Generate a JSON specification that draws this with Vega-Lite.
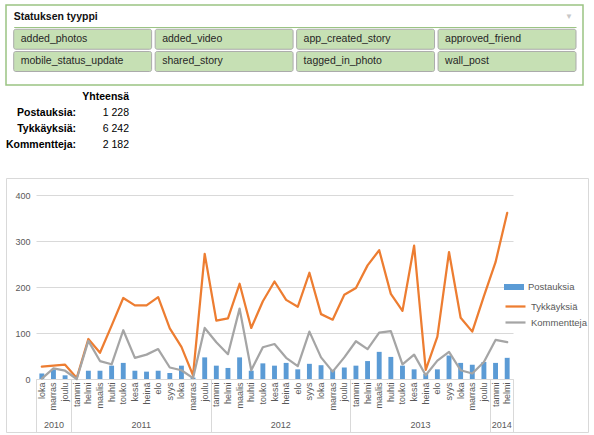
{
  "$schema": "https://vega.github.io/schema/vega-lite/v6.json",
  "background": "white",
  "padding": {"left": 5, "top": 4, "right": 0, "bottom": 0},
  "spacing": 4,
  "bounds": "flush",
  "config": {
    "font": "Liberation Sans",
    "view": {"stroke": null},
    "locale": {"number": {"decimal": ",", "thousands": "\u00a0", "grouping": [3], "currency": ["", "\u00a0€"]}}
  },
  "datasets": {
    "kuukaudet": [
      {"kausi": "2010 loka", "postaukset": 12, "tykkaykset": 27, "kommentit": 1},
      {"kausi": "2010 marras", "postaukset": 21, "tykkaykset": 29, "kommentit": 23},
      {"kausi": "2010 joulu", "postaukset": 8, "tykkaykset": 31, "kommentit": 18},
      {"kausi": "2011 tammi", "postaukset": 0, "tykkaykset": 2, "kommentit": 0},
      {"kausi": "2011 helmi", "postaukset": 18, "tykkaykset": 87, "kommentit": 83},
      {"kausi": "2011 maalis", "postaukset": 18, "tykkaykset": 57, "kommentit": 39},
      {"kausi": "2011 huhti", "postaukset": 29, "tykkaykset": 116, "kommentit": 32},
      {"kausi": "2011 touko", "postaukset": 35, "tykkaykset": 176, "kommentit": 106},
      {"kausi": "2011 kesä", "postaukset": 18, "tykkaykset": 160, "kommentit": 46},
      {"kausi": "2011 heinä", "postaukset": 16, "tykkaykset": 160, "kommentit": 53},
      {"kausi": "2011 elo", "postaukset": 18, "tykkaykset": 178, "kommentit": 65},
      {"kausi": "2011 syys", "postaukset": 13, "tykkaykset": 110, "kommentit": 25},
      {"kausi": "2011 loka", "postaukset": 29, "tykkaykset": 70, "kommentit": 19},
      {"kausi": "2011 marras", "postaukset": 3, "tykkaykset": 8, "kommentit": 2},
      {"kausi": "2011 joulu", "postaukset": 47, "tykkaykset": 272, "kommentit": 111},
      {"kausi": "2012 tammi", "postaukset": 29, "tykkaykset": 127, "kommentit": 80},
      {"kausi": "2012 helmi", "postaukset": 24, "tykkaykset": 132, "kommentit": 54},
      {"kausi": "2012 maalis", "postaukset": 47, "tykkaykset": 207, "kommentit": 153},
      {"kausi": "2012 huhti", "postaukset": 18, "tykkaykset": 111, "kommentit": 19},
      {"kausi": "2012 touko", "postaukset": 34, "tykkaykset": 169, "kommentit": 69},
      {"kausi": "2012 kesä", "postaukset": 29, "tykkaykset": 212, "kommentit": 76},
      {"kausi": "2012 heinä", "postaukset": 35, "tykkaykset": 172, "kommentit": 46},
      {"kausi": "2012 elo", "postaukset": 21, "tykkaykset": 157, "kommentit": 28},
      {"kausi": "2012 syys", "postaukset": 33, "tykkaykset": 231, "kommentit": 103},
      {"kausi": "2012 loka", "postaukset": 30, "tykkaykset": 141, "kommentit": 47},
      {"kausi": "2012 marras", "postaukset": 20, "tykkaykset": 129, "kommentit": 16},
      {"kausi": "2012 joulu", "postaukset": 25, "tykkaykset": 183, "kommentit": 47},
      {"kausi": "2013 tammi", "postaukset": 29, "tykkaykset": 198, "kommentit": 82},
      {"kausi": "2013 helmi", "postaukset": 39, "tykkaykset": 247, "kommentit": 65},
      {"kausi": "2013 maalis", "postaukset": 59, "tykkaykset": 280, "kommentit": 101},
      {"kausi": "2013 huhti", "postaukset": 48, "tykkaykset": 185, "kommentit": 104},
      {"kausi": "2013 touko", "postaukset": 29, "tykkaykset": 148, "kommentit": 32},
      {"kausi": "2013 kesä", "postaukset": 21, "tykkaykset": 290, "kommentit": 53},
      {"kausi": "2013 heinä", "postaukset": 11, "tykkaykset": 20, "kommentit": 8},
      {"kausi": "2013 elo", "postaukset": 21, "tykkaykset": 92, "kommentit": 40},
      {"kausi": "2013 syys", "postaukset": 51, "tykkaykset": 276, "kommentit": 59},
      {"kausi": "2013 loka", "postaukset": 35, "tykkaykset": 133, "kommentit": 19},
      {"kausi": "2013 marras", "postaukset": 31, "tykkaykset": 103, "kommentit": 12},
      {"kausi": "2013 joulu", "postaukset": 37, "tykkaykset": 180, "kommentit": 37},
      {"kausi": "2014 tammi", "postaukset": 35, "tykkaykset": 254, "kommentit": 85},
      {"kausi": "2014 helmi", "postaukset": 46, "tykkaykset": 361, "kommentit": 80}
    ],
    "napit": [
      {"nimi": "added_photos", "sarake": 1, "rivi": "r1"},
      {"nimi": "added_video", "sarake": 2, "rivi": "r1"},
      {"nimi": "app_created_story", "sarake": 3, "rivi": "r1"},
      {"nimi": "approved_friend", "sarake": 4, "rivi": "r1"},
      {"nimi": "mobile_status_update", "sarake": 1, "rivi": "r2"},
      {"nimi": "shared_story", "sarake": 2, "rivi": "r2"},
      {"nimi": "tagged_in_photo", "sarake": 3, "rivi": "r2"},
      {"nimi": "wall_post", "sarake": 4, "rivi": "r2"}
    ],
    "yhteenveto": [
      {"mittari": "Postauksia:", "yhteensa": 1228},
      {"mittari": "Tykkäyksiä:", "yhteensa": 6242},
      {"mittari": "Kommentteja:", "yhteensa": 2182}
    ]
  },
  "vconcat": [
    {
      "width": 577,
      "height": 80,
      "view": {"stroke": "#9BC483", "strokeWidth": 1.5},
      "layer": [
        {
          "data": {"name": "napit"},
          "mark": {"type": "rect", "fill": "#C6E0B4", "stroke": "#ABABAB", "strokeWidth": 1, "cornerRadius": 2},
          "encoding": {
            "x": {"field": "sarake", "type": "ordinal",
                  "scale": {"type": "band", "domain": [1, 2, 3, 4], "range": [7.7, 570], "paddingInner": 0.025, "paddingOuter": 0},
                  "axis": {"orient": "top", "offset": -22, "domain": true, "domainColor": "#9BC483", "domainWidth": 1, "labels": false, "ticks": false, "grid": false, "title": null}},
            "y": {"field": "rivi", "type": "nominal",
                  "scale": {"type": "band", "domain": ["otsikko", "r1", "r2"], "range": [2, 66.5], "paddingInner": 0.1, "paddingOuter": 0},
                  "axis": null}
          }
        },
        {
          "data": {"name": "napit"},
          "mark": {"type": "text", "align": "left", "dx": 7, "fontSize": 10.5, "color": "#262626"},
          "encoding": {
            "x": {"field": "sarake", "type": "ordinal", "bandPosition": 0},
            "y": {"field": "rivi", "type": "nominal", "axis": null},
            "text": {"field": "nimi"}
          }
        },
        {
          "data": {"values": [{"otsikko": "Statuksen tyyppi"}]},
          "mark": {"type": "text", "align": "left", "fontWeight": "bold", "fontSize": 10.5, "color": "#111111"},
          "encoding": {
            "x": {"datum": 1, "type": "ordinal", "bandPosition": 0},
            "y": {"datum": "otsikko", "type": "nominal", "axis": null},
            "text": {"field": "otsikko"}
          }
        },
        {
          "data": {"values": [{"kuvake": "▼"}]},
          "mark": {"type": "text", "align": "right", "dx": -3, "fontSize": 8, "color": "#C8C8C8"},
          "encoding": {
            "x": {"datum": 4, "type": "ordinal", "bandPosition": 1},
            "y": {"datum": "otsikko", "type": "nominal", "axis": null},
            "text": {"field": "kuvake"}
          }
        }
      ]
    },
    {
      "width": 130,
      "height": 85,
      "layer": [
        {
          "data": {"name": "yhteenveto"},
          "mark": {"type": "text", "align": "right", "fontWeight": "bold", "fontSize": 10.5, "color": "#000000"},
          "encoding": {
            "x": {"datum": "nimi", "type": "nominal", "bandPosition": 1,
                  "scale": {"type": "band", "domain": ["nimi", "arvo"], "range": [17, 123], "paddingInner": 0, "paddingOuter": 0},
                  "axis": null},
            "y": {"field": "mittari", "type": "nominal",
                  "scale": {"type": "band", "domain": ["Yhteensä", "Postauksia:", "Tykkäyksiä:", "Kommentteja:"], "range": [0, 64], "paddingInner": 0, "paddingOuter": 0},
                  "axis": null},
            "text": {"field": "mittari"}
          }
        },
        {
          "data": {"name": "yhteenveto"},
          "mark": {"type": "text", "align": "right", "fontSize": 10.5, "color": "#000000"},
          "encoding": {
            "x": {"datum": "arvo", "type": "nominal", "bandPosition": 1, "axis": null},
            "y": {"field": "mittari", "type": "nominal", "axis": null},
            "text": {"field": "yhteensa", "type": "quantitative", "format": ",d"}
          }
        },
        {
          "data": {"values": [{"otsikko": "Yhteensä"}]},
          "mark": {"type": "text", "align": "right", "fontWeight": "bold", "fontSize": 10.5, "color": "#000000"},
          "encoding": {
            "x": {"datum": "arvo", "type": "nominal", "bandPosition": 1, "axis": null},
            "y": {"field": "otsikko", "type": "nominal", "axis": null},
            "text": {"field": "otsikko"}
          }
        }
      ]
    },
    {
      "width": 582,
      "height": 254,
      "view": {"stroke": "#D9D9D9", "strokeWidth": 1},
      "data": {"name": "kuukaudet"},
      "resolve": {"axis": {"x": "independent"}},
      "layer": [
        {
          "mark": {"type": "bar", "width": {"band": 0.42}},
          "encoding": {
            "x": {"field": "kausi", "type": "nominal", "sort": null,
                  "scale": {"type": "band", "range": [30, 507], "paddingInner": 0, "paddingOuter": 0},
                  "axis": {"orient": "bottom", "offset": -53, "title": null, "labelAngle": -90, "labelPadding": 3,
                           "labelFontSize": 9, "labelColor": "#595959", "ticks": false, "grid": false,
                           "domain": true, "domainColor": "#D9D9D9", "labelOverlap": false,
                           "labelExpr": "split(datum.value, ' ')[1]"}},
            "y": {"field": "postaukset", "type": "quantitative", "title": null,
                  "scale": {"domain": [0, 400], "range": [201, 17], "nice": false},
                  "axis": {"orient": "left", "offset": -29, "labelPadding": 5, "domain": false, "ticks": false,
                           "grid": true, "gridColor": "#D9D9D9", "gridWidth": 1, "labelFontSize": 9, "labelColor": "#595959",
                           "values": [0, 50, 100, 150, 200, 250, 300, 350, 400], "title": null}},
            "fill": {"datum": "Postauksia", "type": "nominal",
                     "scale": {"domain": ["Postauksia"], "range": ["#5B9BD5"]},
                     "legend": {"orient": "none", "legendX": 498, "legendY": 272, "title": null,
                                "symbolType": "M-1,-0.3H1V0.3H-1Z", "symbolSize": 400, "symbolStrokeWidth": 0,
                                "labelFontSize": 9.5, "labelColor": "#595959", "labelOffset": 4,
                                "fillColor": "white", "padding": 0}}
          }
        },
        {
          "mark": {"type": "line", "strokeWidth": 2.25, "strokeJoin": "round", "strokeCap": "round"},
          "encoding": {
            "x": {"field": "kausi", "type": "nominal", "sort": null,
                  "axis": {"orient": "bottom", "offset": -53, "title": null, "labelAngle": 0, "domain": false, "grid": false,
                           "tickBand": "extent", "tickExtra": true, "tickSize": 53, "tickColor": "#D9D9D9", "tickWidth": 1,
                           "tickOpacity": {"condition": {"test": "datum.extra || indexof(['2010 joulu','2011 joulu','2012 joulu','2013 joulu','2014 helmi'], datum.value) >= 0", "value": 1}, "value": 0},
                           "labelPadding": -12, "labelFontSize": 9, "labelColor": "#595959", "labelOverlap": false,
                           "labelOffset": {"condition": {"test": "datum.value == '2010 marras'", "value": 0}, "value": 5.82},
                           "labelExpr": "indexof(['2010 marras','2011 kesä','2012 kesä','2013 kesä','2014 tammi'], datum.value) >= 0 ? split(datum.value, ' ')[0] : ''"}},
            "y": {"field": "tykkaykset", "type": "quantitative", "title": null},
            "stroke": {"datum": "Tykkäyksiä", "type": "nominal",
                       "scale": {"domain": ["Tykkäyksiä", "Kommentteja"], "range": ["#ED7D31", "#A5A5A5"]},
                       "legend": {"orient": "none", "legendX": 498, "legendY": 290, "title": null,
                                  "symbolType": "stroke", "symbolSize": 400, "symbolStrokeWidth": 2.25,
                                  "labelFontSize": 9.5, "labelColor": "#595959", "labelOffset": 4, "rowPadding": -2,
                                  "fillColor": "white", "padding": 0}}
          }
        },
        {
          "mark": {"type": "line", "strokeWidth": 2.25, "strokeJoin": "round", "strokeCap": "round"},
          "encoding": {
            "x": {"field": "kausi", "type": "nominal", "sort": null, "axis": null},
            "y": {"field": "kommentit", "type": "quantitative", "title": null},
            "stroke": {"datum": "Kommentteja", "type": "nominal"}
          }
        }
      ]
    }
  ]
}
